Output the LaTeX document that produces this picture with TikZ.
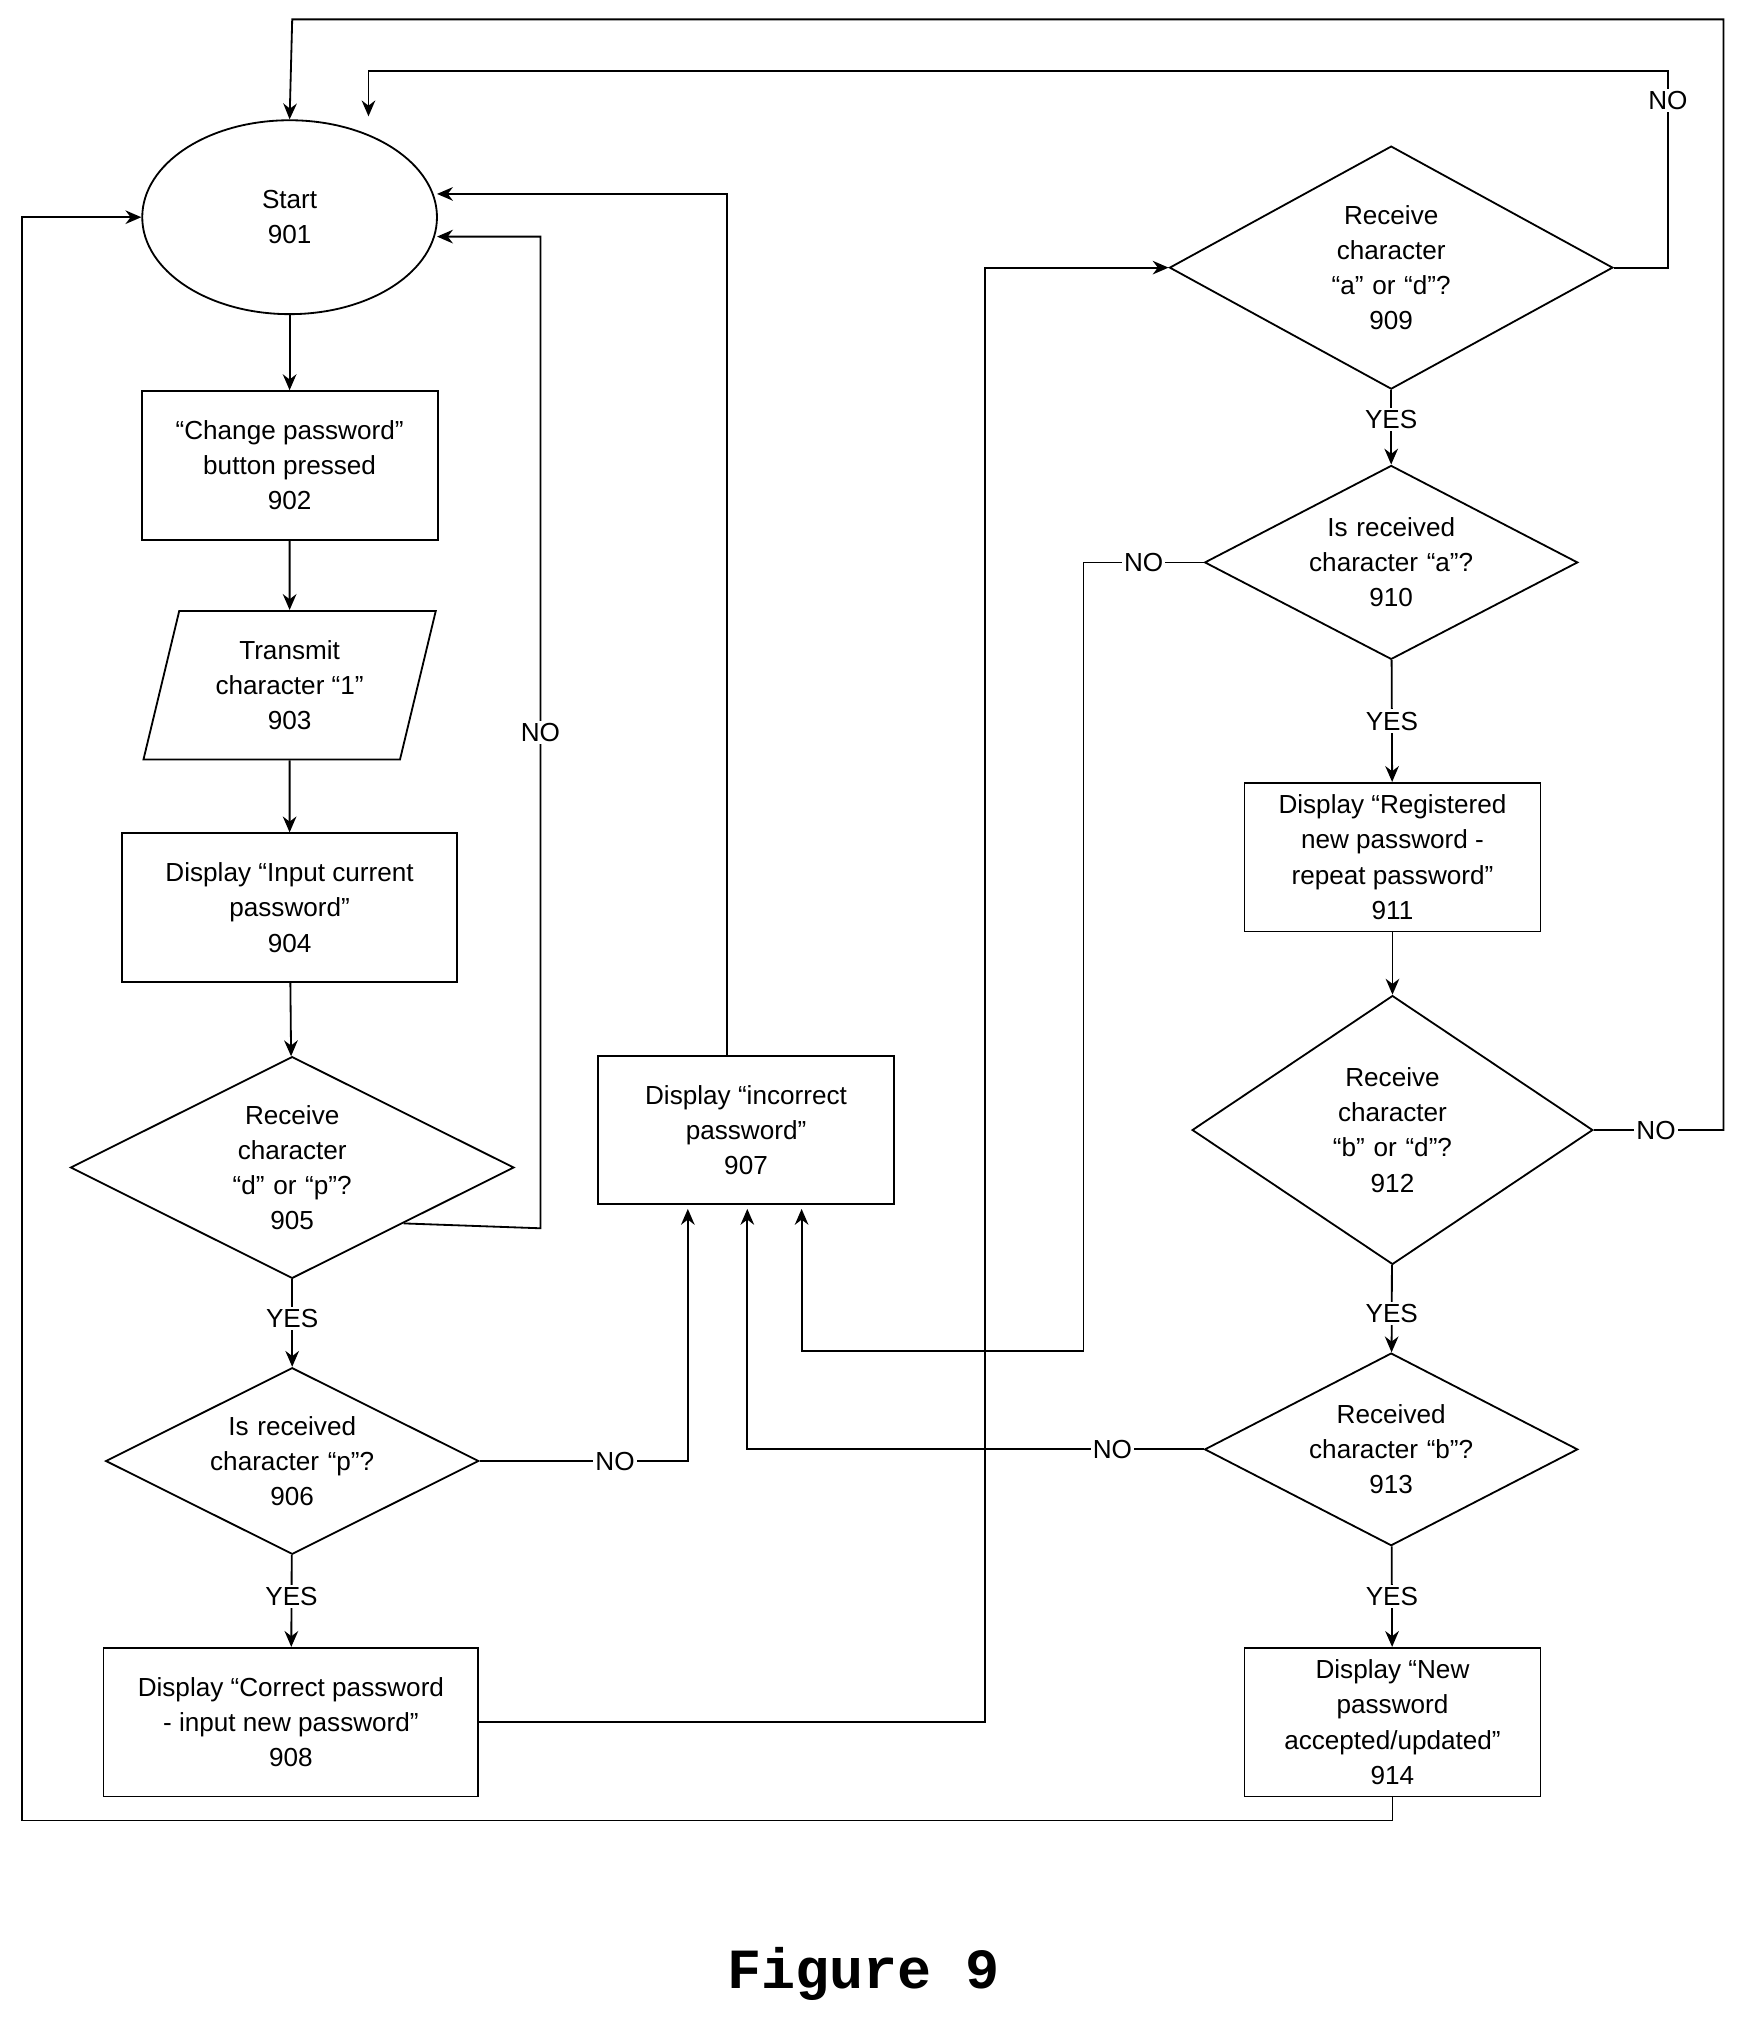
\documentclass[tikz,border=0pt]{standalone}
\usepackage{fontspec}
\setmainfont{Liberation Sans}
\setmonofont{Liberation Mono}
\usetikzlibrary{shapes.geometric,arrows.meta,calc}

\tikzset{
  base/.style={draw,thick,align=center,inner sep=0pt,font=\fontsize{11.5}{15.5}\selectfont},
  box/.style={base,rectangle,minimum width=4.58cm,minimum height=2.3cm},
  dec/.style={base,diamond,aspect=2,text width=3cm},
  io/.style={base,trapezium,trapezium left angle=75,trapezium right angle=105,
    trapezium stretches=true,minimum width=4.56cm,minimum height=2.3cm},
  arr/.style={thick,-{Stealth[length=7pt,width=6pt]}},
  lbl/.style={fill=white,inner sep=1pt,font=\fontsize{11.5}{13}\selectfont}
}

\begin{document}
\begin{tikzpicture}[x=0.02cm,y=-0.02cm]
\useasboundingbox (0,0) rectangle (1350,1567);

% left column
\node[base,ellipse,minimum width=4.56cm,minimum height=3cm] (n901) at (224,168) {Start\\901};
\node[box] (n902) at (224,360) {``Change password''\\button pressed\\902};
\node[io] (n903) at (224,530) {Transmit\\character ``1''\\903};
\node[box,minimum width=5.18cm] (n904) at (224,702) {Display ``Input current\\password''\\904};
\node[dec,minimum width=6.84cm,minimum height=3.4cm] (n905) at (226,903) {Receive character\\``d'' or ``p''?\\905};
\node[dec,minimum width=4.92cm,minimum height=2.86cm] (n906) at (226,1130) {Is received\\character ``p''?\\906};
\node[box,minimum width=5.8cm] (n908) at (225,1332) {Display ``Correct password\\- input new password''\\908};

% middle
\node[box] (n907) at (577,874) {Display ``incorrect\\password''\\907};

% right column
\node[dec,aspect=1.8,minimum width=6.86cm,minimum height=3.76cm] (n909) at (1076,207) {Receive character\\``a'' or ``d''?\\909};
\node[dec,minimum width=4.96cm,minimum height=3cm] (n910) at (1076,435) {Is received\\character ``a''?\\910};
\node[box] (n911) at (1077,663) {Display ``Registered\\new password -\\repeat password''\\911};
\node[dec,aspect=1.5,minimum width=6.2cm,minimum height=4.16cm] (n912) at (1077,874) {Receive character\\``b'' or ``d''?\\912};
\node[dec,minimum width=4.96cm,minimum height=2.98cm] (n913) at (1076,1121) {Received\\character ``b''?\\913};
\node[box] (n914) at (1077,1332) {Display ``New\\password\\accepted/updated''\\914};

\node[font=\fontsize{25}{25}\selectfont\ttfamily\bfseries] (fig) at (668,1527) {Figure 9};

% straight flow
\draw[arr] (n901) -- (n902);
\draw[arr] (n902) -- (n903);
\draw[arr] (n903) -- (n904);
\draw[arr] (n904) -- (n905);
\draw[arr] (n905) -- node[lbl,pos=0.45]{YES} (n906);
\draw[arr] (n906) -- node[lbl,pos=0.45]{YES} (n908);
\draw[arr] (n909) -- node[lbl,pos=0.4]{YES} (n910);
\draw[arr] (n910) -- node[lbl,pos=0.5]{YES} (n911);
\draw[arr] (n911) -- (n912);
\draw[arr] (n912) -- node[lbl,pos=0.55]{YES} (n913);
\draw[arr] (n913) -- node[lbl,pos=0.5]{YES} (n914);

% loops back
\coordinate (c905) at ($(n905.east)!0.5!(n905.south)$);
\draw[arr] (c905) -- (418,950) -- node[lbl]{NO} (418,183) -- (338,183);
\draw[arr] (n906.east) -- node[lbl,pos=0.65]{NO} (532,1130) -- (532,935);
\draw[arr] (562,817) -- (562,150) -- (338,150);
\draw[arr] (n908.east) -- (762,1332) -- (762,207) -- (n909.west);
\draw[arr] (n909.east) -- (1290,207) -- node[lbl,pos=0.85]{NO} (1290,55) -- (285,55) -- (285,90);
\draw[arr] (n910.west) -- node[lbl,pos=0.5]{NO} (838,435) -- (838,1045) -- (620,1045) -- (620,935);
\draw[arr] (n912.east) -- node[lbl,pos=0.48]{NO} (1333,874) -- (1333,15) -- (226,15) -- (n901.north);
\draw[arr] (n913.west) -- node[lbl,pos=0.2]{NO} (578,1121) -- (578,935);
\draw[arr] (n914.south) -- (1077,1408) -- (17,1408) -- (17,168) -- (n901.west);
\end{tikzpicture}
\end{document}
